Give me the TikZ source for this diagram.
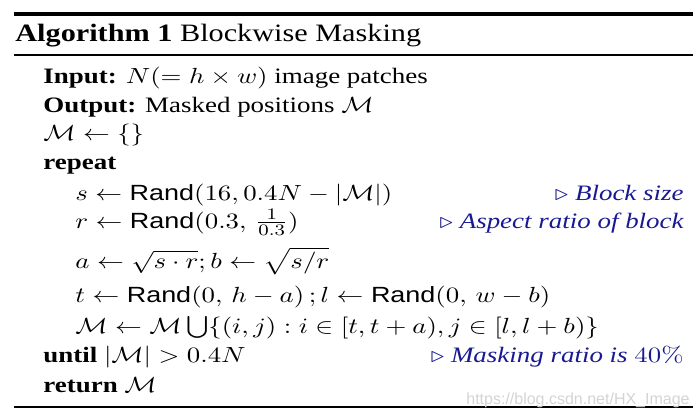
\documentclass[tikz,border=0pt]{standalone}
\usepackage[no-math]{fontspec}
\setmainfont{Liberation Serif}
\setsansfont{Liberation Sans}
\usepackage{amsmath}
\definecolor{cblue}{RGB}{25,25,145}
\definecolor{wmgray}{RGB}{212,212,212}
\newcommand{\wline}[1]{\scalebox{1.225}[1]{#1}}
\begin{document}
\begin{tikzpicture}[x=0.5pt,y=-0.5pt,
  txt/.style={anchor=base west,inner sep=0pt,font=\fontsize{11}{13}\selectfont},
  cmt/.style={anchor=base east,inner sep=0pt,text=cblue,font=\fontsize{11}{13}\selectfont\itshape},
  thickrule/.style={line width=2pt},
  thinrule/.style={line width=0.55pt}]
\useasboundingbox (0,0) rectangle (700,419);
\draw[thickrule] (14,14) -- (693,14);
\draw[thinrule] (14,55) -- (693,55);
\draw[thinrule] (14,407) -- (693,407);
\node[txt,font=\fontsize{12.5}{14}\selectfont] (title) at (15,41) {\scalebox{1.21}[1]{\textbf{Algorithm 1} Blockwise Masking}};
\node[txt] (l1) at (43,83) {\wline{\textbf{Input:} $N(=h\times w)$ image patches}};
\node[txt] (l2) at (43,112) {\wline{\textbf{Output:} Masked positions $\mathcal{M}$}};
\node[txt] (l3) at (43,140) {\wline{$\mathcal{M}\leftarrow\{\}$}};
\node[txt] (l4) at (43,169) {\wline{\textbf{repeat}}};
\node[txt] (l5) at (75,200) {\wline{$s\leftarrow\textsf{Rand}(16,0.4N-|\mathcal{M}|)$}};
\node[txt] (l6) at (75,228) {\wline{$r\leftarrow\textsf{Rand}(0.3,\,\frac{1}{0.3})$}};
\node[txt] (l7) at (75,268) {\wline{$a\leftarrow\sqrt{s\cdot r};b\leftarrow\sqrt{s/r}$}};
\node[txt] (l8) at (75,302) {\wline{$t\leftarrow\textsf{Rand}(0,\,h-a)\,;l\leftarrow\textsf{Rand}(0,\,w-b)$}};
\node[txt] (l9) at (75,333) {\wline{$\mathcal{M}\leftarrow\mathcal{M}\bigcup\{(i,j):i\in[t,t+a),j\in[l,l+b)\}$}};
\node[txt] (l10) at (43,362) {\wline{\textbf{until} $|\mathcal{M}|>0.4N$}};
\node[txt] (l11) at (43,392) {\wline{\textbf{return} $\mathcal{M}$}};
\node[cmt] (c1) at (684,200) {\wline{$\triangleright$ Block size}};
\node[cmt] (c2) at (684,228) {\wline{$\triangleright$ Aspect ratio of block}};
\node[cmt] (c3) at (684,362) {\wline{$\triangleright$ Masking ratio is $40\%$}};
\node[anchor=base east,inner sep=0pt,text=wmgray,font=\sffamily\fontsize{8}{9}\selectfont] (wm) at (690,404) {https://blog.csdn.net/HX\_Image};
\end{tikzpicture}
\end{document}
